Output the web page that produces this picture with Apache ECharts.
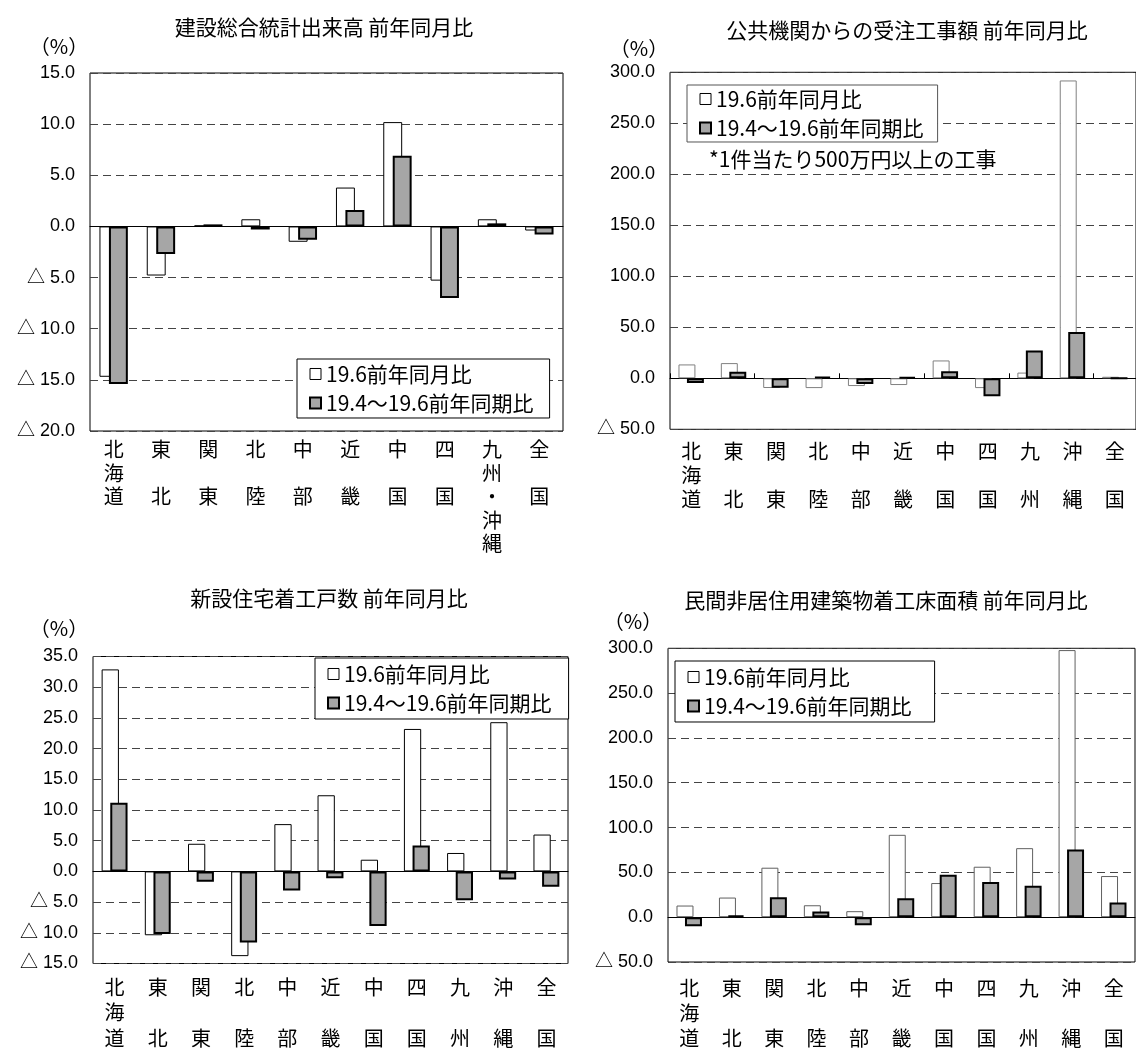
<!DOCTYPE html>
<html><head><meta charset="utf-8">
<script src="https://cdn.jsdelivr.net/npm/echarts@6/dist/echarts.min.js"></script>
<style>html,body{margin:0;padding:0;background:#fff}#c{width:1136px;height:1051px}</style>
</head><body><div id="c"></div>
<script>
// ---- data ----
const regions1 = ['北海道','東北','関東','北陸','中部','近畿','中国','四国','九州・沖縄','全国'];
const regions2 = ['北海道','東北','関東','北陸','中部','近畿','中国','四国','九州','沖縄','全国'];
const seriesNames = ['19.6前年同月比','19.4～19.6前年同期比'];
const titles = ['建設総合統計出来高 前年同月比','公共機関からの受注工事額 前年同月比','新設住宅着工戸数 前年同月比','民間非居住用建築物着工床面積 前年同月比'];
const unitLabel = '（%）';
const noteText = '*1件当たり500万円以上の工事';

const c1Month  = [-14.7,-4.8,0.1,0.7,-1.5,3.8,10.2,-5.3,0.7,-0.4];
const c1Period = [-15.4,-2.7,0.2,-0.3,-1.3,1.6,6.9,-7.0,0.3,-0.8];
const c2Month  = [13.6,14.9,-9.5,-9.6,-7.6,-6.6,17.5,-9.6,5.6,292.0,1.5];
const c2Period = [-4.6,6.3,-9.2,1.7,-5.6,1.3,7.0,-17.5,27.2,45.4,0.1];
const c3Month  = [32.9,-10.4,4.5,-13.8,7.7,12.4,1.9,23.2,3.0,24.3,6.0];
const c3Period = [11.2,-10.2,-1.7,-11.6,-3.1,-1.1,-8.9,4.2,-4.7,-1.3,-2.5];
const c4Month  = [13.0,21.9,55.2,13.3,6.7,91.9,38.1,56.3,77.0,298.0,45.9];
const c4Period = [-10.0,1.9,22.2,6.3,-8.9,21.1,47.4,39.3,35.2,75.6,16.3];

const yRange1 = [-20, 15, 5];
const yRange2 = [-50, 300, 50];
const yRange3 = [-15, 35, 5];
const yRange4 = [-50, 300, 50];

// ---- layout / style ----
const panels = [
  {cats:regions1, month:c1Month, period:c1Period, yr:yRange1,
   grid:{left:90, top:73, width:473, height:358}, margin:7, lh:23.5, ticks:false, wb:'#000',
   legend:{left:297, top:359, w:251, h:57},
   title:[324, 27], unit:[59, 46]},
  {cats:regions2, month:c2Month, period:c2Period, yr:yRange2,
   grid:{left:670, top:72.3, width:467, height:357}, margin:10, lh:24, ticks:true, wb:'#808080',
   legend:{left:687, top:85, w:249, h:55},
   title:[907, 30], unit:[639, 48]},
  {cats:regions2, month:c3Month, period:c3Period, yr:yRange3,
   grid:{left:93, top:656.5, width:475, height:313.5}, margin:11, lh:25.5, ticks:false, wb:'#000',
   legend:{left:315, top:658, w:252, h:59},
   title:[329, 598], unit:[59, 628]},
  {cats:regions2, month:c4Month, period:c4Period, yr:yRange4,
   grid:{left:668, top:648.3, width:467, height:316.7}, margin:14, lh:25, ticks:false, wb:'#606060',
   legend:{left:675, top:661, w:258, h:59},
   title:[886, 600], unit:[633, 621]}
];

const CJK = "'Noto Sans CJK JP', sans-serif";
const fmtY = v => v < 0 ? '△ ' + Math.abs(v).toFixed(1) : v.toFixed(1);
const fmtX = s => { const ch = Array.from(s); return ch.length === 2 ? ch[0] + '\n\n' + ch[1] : ch.join('\n'); };

const grids = [], xAxes = [], yAxes = [], series = [], legends = [], graphics = [];
const LEG_FS = 21, LEG_ICON = 11, LEG_TEXT_W = 207;

panels.forEach((p, i) => {
  grids.push(Object.assign({show:true, borderColor:'#000', borderWidth:1, backgroundColor:'transparent', containLabel:false}, p.grid));
  xAxes.push({gridIndex:i, type:'category', data:p.cats, position:'bottom',
    axisLine:{show:false, onZero:false}, axisTick:{show:false}, splitLine:{show:false},
    axisLabel:{interval:0, formatter:fmtX, fontSize:20, lineHeight:p.lh, margin:p.margin, color:'#000', fontFamily:CJK}});
  xAxes.push({gridIndex:i, type:'category', data:p.cats, position:'bottom',
    axisLine:{show:true, onZero:true, lineStyle:{color:'#000', width:1}},
    axisTick:{show:p.ticks, inside:true, length:5, lineStyle:{color:'#000', width:1}},
    axisLabel:{show:false}, splitLine:{show:false}});
  yAxes.push({gridIndex:i, type:'value', min:p.yr[0], max:p.yr[1], interval:p.yr[2],
    axisLine:{show:false}, axisTick:{show:false},
    axisLabel:{formatter:fmtY, fontSize:18, color:'#000', margin:15, showMinLabel:true, showMaxLabel:true,
      fontFamily:"'Liberation Sans', 'Noto Sans CJK JP', sans-serif"},
    splitLine:{show:true, lineStyle:{type:[8,5], color:'#444', width:1}}});
  series.push({type:'bar', name:seriesNames[0], xAxisIndex:2*i, yAxisIndex:i, data:p.month,
    barWidth:'40%', barGap:'-50%', itemStyle:{color:'#fff', borderColor:p.wb, borderWidth:1}});
  series.push({type:'bar', name:seriesNames[1], xAxisIndex:2*i, yAxisIndex:i, data:p.period,
    barWidth:'40%', barGap:'-50%', itemStyle:{color:'#a6a6a6', borderColor:'#000', borderWidth:2}});
  const padV = (p.legend.h - 48) / 2;
  const padR = p.legend.w - 12 - (LEG_ICON + 5 + LEG_TEXT_W);
  legends.push({orient:'vertical', left:p.legend.left, top:p.legend.top,
    padding:[padV, Math.max(padR, 4), padV, 12], itemGap:8, itemWidth:LEG_ICON, itemHeight:LEG_ICON,
    backgroundColor:'#fff', borderColor: i === 1 ? '#555' : '#000', borderWidth:1, selectedMode:false,
    textStyle:{fontSize:LEG_FS, lineHeight:20, color:'#000', fontFamily:CJK},
    data:[
      {name:seriesNames[0], icon:'rect', itemStyle:{color:'#fff', borderColor:'#000', borderWidth:1}},
      {name:seriesNames[1], icon:'rect', itemStyle:{color:'#a6a6a6', borderColor:'#000', borderWidth:2}}
    ]});
  graphics.push({type:'text', x:p.title[0], y:p.title[1], z:10,
    style:{text:titles[i], fontSize:21, fontFamily:CJK, fill:'#000', align:'center', verticalAlign:'middle', textAlign:'center', textVerticalAlign:'middle'}});
  graphics.push({type:'text', x:p.unit[0], y:p.unit[1], z:10,
    style:{text:unitLabel, fontSize:20, fontFamily:CJK, fill:'#000', align:'center', verticalAlign:'middle', textAlign:'center', textVerticalAlign:'middle'}});
});
graphics.push({type:'text', x:709, y:159, z:10,
  style:{text:noteText, fontSize:21, fontFamily:CJK, fill:'#000', align:'left', verticalAlign:'middle', textAlign:'left', textVerticalAlign:'middle'}});

const chart = echarts.init(document.getElementById('c'), null, {renderer:'canvas'});
chart.setOption({
  animation:false,
  backgroundColor:'#fff',
  grid:grids, xAxis:xAxes, yAxis:yAxes, series:series, legend:legends, graphic:graphics
});
</script></body></html>
